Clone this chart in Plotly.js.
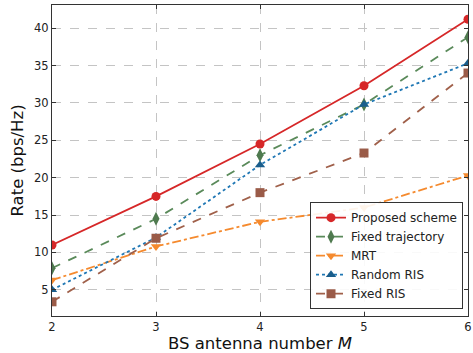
<!DOCTYPE html>
<html><head><meta charset="utf-8">
<script src="https://cdn.plot.ly/plotly-3.0.1.min.js"></script>
<style>html,body{margin:0;padding:0;background:#fff}#c{width:473px;height:353px}</style>
</head><body><div id="c"></div>
<script>
const antennas = [2, 3, 4, 5, 6];
const proposed = [11.0, 17.5, 24.5, 32.3, 41.2];
const fixedTrajectory = [7.9, 14.5, 23.0, 29.8, 38.8];
const mrt = [6.3, 10.8, 14.1, 16.0, 20.3];
const randomRIS = [5.0, 12.0, 21.7, 29.8, 35.3];
const fixedRIS = [3.4, 11.9, 18.0, 23.3, 34.0];
const names = ['Proposed scheme', 'Fixed trajectory', 'MRT', 'Random RIS', 'Fixed RIS'];
const xTicks = [2, 3, 4, 5, 6];
const yTicks = [5, 10, 15, 20, 25, 30, 35, 40];

const series = [proposed, fixedTrajectory, mrt, randomRIS, fixedRIS];
const styles = [
  {color:'#d62728', mcolor:'#d62728', dash:'solid', symbol:'circle', size:9},
  {color:'#5a8a5a', mcolor:'#4f7a4f', dash:'dash', symbol:'diamond-tall', size:10},
  {color:'#f58a2e', mcolor:'#f58a2e', dash:'dashdot', symbol:'triangle-down', size:9},
  {color:'#1f77b4', mcolor:'#1a5e8c', dash:'dot', symbol:'triangle-up', size:9},
  {color:'#a0604a', mcolor:'#9a5b48', dash:'dash', symbol:'square', size:9}
];
const traces = series.map((y, i) => ({
  x: antennas, y: y, name: names[i], type: 'scatter', mode: 'lines+markers',
  line: {color: styles[i].color, dash: styles[i].dash, width: 1.8},
  marker: {color: styles[i].mcolor, symbol: styles[i].symbol, size: styles[i].size}
}));

const axisCommon = {
  showline: true, linecolor: '#333', linewidth: 1, mirror: 'ticks',
  ticks: 'inside', ticklen: 4, tickcolor: '#333',
  showgrid: true, gridcolor: '#c4c4c4', griddash: 'dash', gridwidth: 1,
  zeroline: false, tickfont: {family: 'DejaVu Sans', size: 11.5, color: '#222'}
};
const layout = {
  width: 473, height: 353,
  margin: {l: 52, r: 5, t: 5, b: 37},
  paper_bgcolor: '#fff', plot_bgcolor: '#fff',
  xaxis: Object.assign({}, axisCommon, {
    range: [2, 6], tickvals: xTicks,
    title: {text: 'BS antenna number <i>M</i>', font: {family: 'DejaVu Sans', size: 16.5, color: '#111'}, standoff: 6}
  }),
  yaxis: Object.assign({}, axisCommon, {
    range: [1.5, 43.1], tickvals: yTicks,
    title: {text: 'Rate (bps/Hz)', font: {family: 'DejaVu Sans', size: 16.5, color: '#111'}, standoff: 6}
  }),
  legend: {
    x: 0.988, y: 0.022, xanchor: 'right', yanchor: 'bottom',
    bgcolor: 'rgba(255,255,255,0.9)', bordercolor: '#333', borderwidth: 1,
    font: {family: 'DejaVu Sans', size: 12, color: '#222'},
    tracegroupgap: 0, itemwidth: 30
  },
  showlegend: true
};
Plotly.newPlot('c', traces, layout, {displayModeBar: false, staticPlot: true});
</script></body></html>
